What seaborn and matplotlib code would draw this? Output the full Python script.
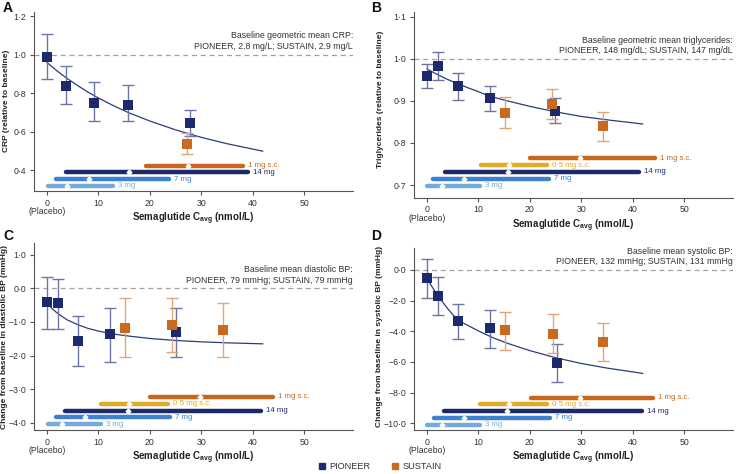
import matplotlib
matplotlib.use("Agg")
import matplotlib.pyplot as plt
import matplotlib.transforms as mtransforms
from matplotlib.lines import Line2D
from matplotlib.ticker import FixedLocator, FuncFormatter
import seaborn as sns

# ---- panel A: CRP --------------------------------------------------------
pioneer_x_a = [0.0, 3.7, 9.1, 15.8, 27.8]
pioneer_y_a = [0.985, 0.835, 0.750, 0.740, 0.645]
pioneer_lo_a = [0.875, 0.745, 0.655, 0.655, 0.575]
pioneer_hi_a = [1.105, 0.940, 0.860, 0.840, 0.710]
sustain_x_a = [27.2]
sustain_y_a = [0.535]
sustain_lo_a = [0.485]
sustain_hi_a = [0.595]
curve_x_a = [0, 2, 4, 6, 8, 10, 13, 16, 20, 25, 30, 35, 42]
curve_y_a = [0.960, 0.915, 0.875, 0.839, 0.805, 0.775, 0.734, 0.697, 0.655, 0.609, 0.570, 0.537, 0.498]
dose_names_a = ["3 mg", "7 mg", "14 mg", "1 mg s.c."]
dose_lo_a = [0.3, 1.8, 3.8, 19.2]
dose_hi_a = [12.9, 23.8, 39.2, 38.2]
dose_med_a = [4.0, 8.2, 15.9, 27.4]

# ---- panel B: triglycerides ---------------------------------------------
pioneer_x_b = [0.0, 2.1, 6.0, 12.2, 25.0]
pioneer_y_b = [0.960, 0.982, 0.935, 0.907, 0.876]
pioneer_lo_b = [0.930, 0.950, 0.903, 0.877, 0.848]
pioneer_hi_b = [0.988, 1.015, 0.965, 0.936, 0.906]
sustain_x_b = [15.2, 24.3, 34.2]
sustain_y_b = [0.872, 0.893, 0.840]
sustain_lo_b = [0.836, 0.857, 0.805]
sustain_hi_b = [0.908, 0.929, 0.874]
curve_x_b = [0, 2, 4, 6, 8, 10, 12, 15, 20, 25, 30, 35, 42]
curve_y_b = [0.976, 0.963, 0.951, 0.941, 0.931, 0.922, 0.912, 0.902, 0.887, 0.874, 0.863, 0.855, 0.845]
dose_names_b = ["3 mg", "7 mg", "14 mg", "0·5 mg s.c.", "1 mg s.c."]
dose_lo_b = [0.0, 1.3, 3.5, 10.5, 20.0]
dose_hi_b = [10.4, 23.8, 41.3, 23.4, 44.3]
dose_med_b = [2.9, 7.2, 15.8, 16.0, 29.8]

# ---- panel C: diastolic BP ----------------------------------------------
pioneer_x_c = [0.0, 2.1, 6.1, 12.2, 25.2]
pioneer_y_c = [-0.42, -0.45, -1.58, -1.37, -1.31]
pioneer_lo_c = [-1.20, -1.20, -2.30, -2.18, -2.05]
pioneer_hi_c = [0.33, 0.29, -0.83, -0.58, -0.58]
sustain_x_c = [15.2, 24.4, 34.2]
sustain_y_c = [-1.19, -1.10, -1.24]
sustain_lo_c = [-2.05, -1.88, -2.05]
sustain_hi_c = [-0.28, -0.28, -0.44]
curve_x_c = [0, 1, 2, 3, 4, 6, 8, 10, 13, 16, 20, 25, 30, 35, 42]
curve_y_c = [-0.42, -0.60, -0.73, -0.84, -0.94, -1.08, -1.19, -1.27, -1.36, -1.42,
             -1.49, -1.55, -1.59, -1.62, -1.65]
dose_names_c = ["3 mg", "7 mg", "14 mg", "0·5 mg s.c.", "1 mg s.c."]
dose_lo_c = [0.3, 1.8, 3.6, 10.5, 20.0]
dose_hi_c = [10.5, 24.0, 41.7, 23.5, 44.0]
dose_med_c = [2.9, 7.5, 15.8, 16.0, 29.8]

# ---- panel D: systolic BP -----------------------------------------------
pioneer_x_d = [0.0, 2.2, 6.1, 12.3, 25.3]
pioneer_y_d = [-0.55, -1.70, -3.32, -3.80, -6.05]
pioneer_lo_d = [-1.85, -2.92, -4.50, -5.10, -7.30]
pioneer_hi_d = [0.70, -0.48, -2.20, -2.60, -4.85]
sustain_x_d = [15.2, 24.5, 34.2]
sustain_y_d = [-3.95, -4.15, -4.70]
sustain_lo_d = [-5.25, -5.45, -5.95]
sustain_hi_d = [-2.75, -2.85, -3.48]
curve_x_d = [0, 1, 2, 4, 6, 8, 10, 13, 16, 20, 25, 30, 35, 42]
curve_y_d = [-0.55, -1.08, -1.60, -2.50, -3.28, -3.62, -3.97, -4.44, -4.82, -5.26,
             -5.72, -6.10, -6.40, -6.75]
dose_names_d = ["3 mg", "7 mg", "14 mg", "0·5 mg s.c.", "1 mg s.c."]
dose_lo_d = [0.1, 1.5, 3.4, 10.3, 20.2]
dose_hi_d = [10.4, 24.0, 41.8, 23.3, 44.0]
dose_med_d = [3.0, 7.3, 15.6, 16.0, 29.8]

NAVY = "#1c2a6b"
ORANGE = "#c96a1f"
NAVY_ERR = "#6e74a6"
ORANGE_ERR = "#e2a676"
CURVE = "#2c3c7c"
DOSE_COLORS = {
    "3 mg": "#74abd8",
    "7 mg": "#3f80cf",
    "14 mg": "#1c2a6b",
    "0·5 mg s.c.": "#e2aa28",
    "1 mg s.c.": "#c8671c",
}

sns.set_theme(style="ticks")
plt.rcParams["font.family"] = ["Liberation Sans", "DejaVu Sans"]
plt.rcParams["mathtext.fontset"] = "custom"
plt.rcParams["mathtext.rm"] = "Liberation Sans"
plt.rcParams["mathtext.bf"] = "Liberation Sans:bold"


def dot_fmt(v, _pos):
    s = f"{abs(v):.1f}".replace(".", "·")
    return ("−" + s) if v < -1e-9 else s


def draw_panel(ax, px, py, plo, phi, sx, sy, slo, shi, cx, cy,
               names, dlo, dhi, dmed, ylim, yticks, base, ylabel, note, row0, label_xy):
    ax.set_xlim(-2.47, 59.5)
    ax.set_ylim(*ylim)
    ax.axhline(base, color="#a0a0a0", lw=0.9, ls=(0, (4, 3)), zorder=1)
    ax.annotate(note, xy=(1.0, base), xycoords=ax.get_yaxis_transform(),
                xytext=(0, 2.5), textcoords="offset points", ha="right", va="bottom",
                fontsize=6.3, color="#333333", linespacing=1.25)

    sns.lineplot(x=cx, y=cy, ax=ax, color=CURVE, lw=0.9, zorder=2)

    ax.errorbar(px, py, yerr=[[a - b for a, b in zip(py, plo)], [b - a for a, b in zip(py, phi)]],
                fmt="none", ecolor=NAVY_ERR, elinewidth=1.0, capsize=4.5, capthick=1.0, zorder=3)
    ax.errorbar(sx, sy, yerr=[[a - b for a, b in zip(sy, slo)], [b - a for a, b in zip(sy, shi)]],
                fmt="none", ecolor=ORANGE_ERR, elinewidth=1.0, capsize=4.5, capthick=1.0, zorder=3)
    sns.scatterplot(x=px, y=py, ax=ax, marker="s", s=42, color=NAVY, linewidth=0, zorder=5)
    sns.scatterplot(x=sx, y=sy, ax=ax, marker="s", s=42, color=ORANGE, linewidth=0, zorder=5)

    # dose exposure ranges, stacked rows from the bottom of the axes
    trans = mtransforms.blended_transform_factory(ax.transData, ax.transAxes)
    for i, (name, lo, hi, med) in enumerate(zip(names, dlo, dhi, dmed)):
        yf = row0 + i * 0.037
        col = DOSE_COLORS[name]
        ax.plot([lo, hi], [yf, yf], transform=trans, color=col, lw=3.2,
                solid_capstyle="round", zorder=4)
        ax.plot([med], [yf], transform=trans, marker="D", ms=2.4, color="white",
                mec="white", zorder=5)
        ax.annotate(name, xy=(hi, yf), xycoords=trans, xytext=(3.5, 0),
                    textcoords="offset points", va="center", ha="left",
                    fontsize=5.6, color=col)

    ax.xaxis.set_major_locator(FixedLocator([0, 10, 20, 30, 40, 50]))
    ax.yaxis.set_major_locator(FixedLocator(yticks))
    ax.yaxis.set_major_formatter(FuncFormatter(dot_fmt))
    ax.tick_params(length=3, width=0.8, color="#555555", labelsize=6.3,
                   labelcolor="#333333", pad=2.5)
    for side in ("top", "right"):
        ax.spines[side].set_visible(False)
    for side in ("left", "bottom"):
        ax.spines[side].set_color("#555555")
        ax.spines[side].set_linewidth(0.8)

    ax.annotate("(Placebo)", xy=(0, 0), xycoords=trans, xytext=(0, -15),
                textcoords="offset points", ha="center", va="center",
                fontsize=6.2, color="#333333")
    ax.set_xlabel(r"Semaglutide C$_{\mathbf{avg}}$ (nmol/L)", fontsize=7,
                  fontweight="bold", color="#222222", labelpad=2)
    ax.set_ylabel(ylabel, fontsize=6.0, fontweight="bold", color="#222222")
    ax.yaxis.set_label_coords(*label_xy)


fig = plt.figure(figsize=(7.38, 4.74), dpi=100)
ax_a = fig.add_axes([0.0461, 0.5970, 0.4322, 0.3776])
ax_b = fig.add_axes([0.5610, 0.5829, 0.4322, 0.3918])
ax_c = fig.add_axes([0.0461, 0.0928, 0.4322, 0.3945])
ax_d = fig.add_axes([0.5610, 0.0928, 0.4322, 0.3840])

draw_panel(ax_a, pioneer_x_a, pioneer_y_a, pioneer_lo_a, pioneer_hi_a,
           sustain_x_a, sustain_y_a, sustain_lo_a, sustain_hi_a, curve_x_a, curve_y_a,
           dose_names_a, dose_lo_a, dose_hi_a, dose_med_a,
           (0.291, 1.221), [0.4, 0.6, 0.8, 1.0, 1.2], 1.0,
           "CRP (relative to baseline)",
           "Baseline geometric mean CRP:\nPIONEER, 2.8 mg/L; SUSTAIN, 2.9 mg/L", 0.030,
           (-0.075, 0.506))
draw_panel(ax_b, pioneer_x_b, pioneer_y_b, pioneer_lo_b, pioneer_hi_b,
           sustain_x_b, sustain_y_b, sustain_lo_b, sustain_hi_b, curve_x_b, curve_y_b,
           dose_names_b, dose_lo_b, dose_hi_b, dose_med_b,
           (0.670, 1.111), [0.7, 0.8, 0.9, 1.0, 1.1], 1.0,
           "Triglycerides (relative to baseline)",
           "Baseline geometric mean triglycerides:\nPIONEER, 148 mg/dL; SUSTAIN, 147 mg/dL", 0.065,
           (-0.094, 0.529))
draw_panel(ax_c, pioneer_x_c, pioneer_y_c, pioneer_lo_c, pioneer_hi_c,
           sustain_x_c, sustain_y_c, sustain_lo_c, sustain_hi_c, curve_x_c, curve_y_c,
           dose_names_c, dose_lo_c, dose_hi_c, dose_med_c,
           (-4.21, 1.345), [-4, -3, -2, -1, 0, 1], 0.0,
           "Change from baseline in diastolic BP (mmHg)",
           "Baseline mean diastolic BP:\nPIONEER, 79 mmHg; SUSTAIN, 79 mmHg", 0.030,
           (-0.082, 0.499))
draw_panel(ax_d, pioneer_x_d, pioneer_y_d, pioneer_lo_d, pioneer_hi_d,
           sustain_x_d, sustain_y_d, sustain_lo_d, sustain_hi_d, curve_x_d, curve_y_d,
           dose_names_d, dose_lo_d, dose_hi_d, dose_med_d,
           (-10.44, 1.43), [-10, -8, -6, -4, -2, 0], 0.0,
           "Change from baseline in systolic BP (mmHg)",
           "Baseline mean systolic BP:\nPIONEER, 132 mmHg; SUSTAIN, 131 mmHg", 0.030,
           (-0.096, 0.515))

for letter, (fx, fy) in zip("ABCD", [(0.004, 0.998), (0.503, 0.998), (0.004, 0.517), (0.503, 0.517)]):
    fig.text(fx, fy, letter, fontsize=10, fontweight="bold", va="top", ha="left", color="#111111")

handles = [
    Line2D([], [], marker="s", ls="none", color=NAVY, ms=5, label="PIONEER"),
    Line2D([], [], marker="s", ls="none", color=ORANGE, ms=5, label="SUSTAIN"),
]
fig.legend(handles=handles, loc="center", bbox_to_anchor=(0.514, 0.016), ncol=2,
           frameon=False, fontsize=6.6, handletextpad=0.3, columnspacing=2.2,
           handlelength=1.0, labelcolor="#333333")

fig.savefig("out.png", dpi=100)
